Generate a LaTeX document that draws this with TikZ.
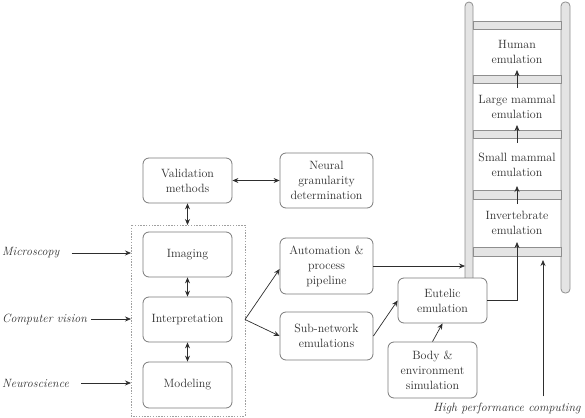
\documentclass[tikz,border=0pt]{standalone}
\usetikzlibrary{arrows.meta,calc}
\definecolor{boxgray}{HTML}{7A7A7A}
\definecolor{txt}{HTML}{2E2E2E}
\definecolor{arrcol}{HTML}{2E2E2E}
\definecolor{railfill}{HTML}{E4E4E4}
\definecolor{railline}{HTML}{8E8E8E}
\definecolor{dashcol}{HTML}{A0A0A0}
\begin{document}
\begin{tikzpicture}[x=1pt,y=-1pt,
  font=\fontsize{12}{15}\selectfont,
  box/.style={draw=boxgray, line width=0.8pt, rounded corners=6pt, fill=white,
    align=center, text=txt, inner sep=0pt},
  lbl/.style={text=txt, inner sep=0pt, font=\fontsize{12}{15}\selectfont\itshape},
  cell/.style={text=txt, align=center, inner sep=0pt},
  arr/.style={-{Stealth[length=6pt,width=5pt]}, draw=arrcol, line width=0.7pt},
  darr/.style={{Stealth[length=6pt,width=5pt]}-{Stealth[length=6pt,width=5pt]}, draw=arrcol, line width=0.7pt},
  rail/.style={draw=railline, fill=railfill, line width=0.8pt, rounded corners=4pt},
  rung/.style={draw=railline, fill=railfill, line width=0.8pt}
]
\useasboundingbox (0,0) rectangle (585,417);

% ---- ladder
\draw[rail] (465,2) rectangle (473,285);
\draw[rail] (561,2) rectangle (570,293);
\foreach \t/\b in {21/29, 75/83, 130/138, 190/199, 247/256}
  \draw[rung] (473,\t) rectangle (561,\b);

\node[cell] (human)  at (517,52)    {Human\\emulation};
\node[cell] (large)  at (517,106.5) {Large mammal\\emulation};
\node[cell] (small)  at (517,164.5) {Small mammal\\emulation};
\node[cell] (invert) at (517,222.5) {Invertebrate\\emulation};

\coordinate (r1a) at (517,88);  \coordinate (r1b) at (517,70);
\coordinate (r2a) at (517,143); \coordinate (r2b) at (517,125);
\coordinate (r3a) at (517,204); \coordinate (r3b) at (517,186);
\draw[arr] (r1a) -- (r1b);
\draw[arr] (r2a) -- (r2b);
\draw[arr] (r3a) -- (r3b);

\coordinate (railL) at (465,266);
\coordinate (invIn) at (517,242);
\coordinate (hpcTip) at (543,260);

% ---- boxes
\node[box, minimum width=89pt, minimum height=45pt] (valid) at (187.5,180.5) {Validation\\methods};
\node[box, minimum width=93pt, minimum height=55pt] (neural) at (326.5,180.5) {Neural\\granularity\\determination};

\draw[dashcol, line width=0.9pt, dash pattern=on 1.4pt off 1.4pt] (131,225) rectangle (245,416);
\coordinate (dashTop) at (187.5,225);
\coordinate (dashL) at (131,320);
\coordinate (dashR) at (245,320);

\node[box, minimum width=89pt, minimum height=45pt] (imaging) at (187.5,254.5) {Imaging};
\node[box, minimum width=89pt, minimum height=45pt] (interp) at (187.5,319.5) {Interpretation};
\node[box, minimum width=89pt, minimum height=46pt] (model) at (187.5,385) {Modeling};

\node[box, minimum width=93pt, minimum height=56pt] (auto) at (326.5,266) {Automation \&\\process\\pipeline};
\node[box, minimum width=93pt, minimum height=48pt] (sub) at (326.5,336) {Sub-network\\emulations};

\node[box, minimum width=89pt, minimum height=45pt] (eut) at (442.5,300.5) {Eutelic\\emulation};
\node[box, minimum width=89pt, minimum height=56pt] (body) at (432.5,370) {Body \&\\environment\\simulation};

% ---- left labels
\node[lbl, anchor=west] (micro) at (2,253) {Microscopy};
\node[lbl, anchor=west] (cv) at (2,319) {Computer vision};
\node[lbl, anchor=west] (neuro) at (2,383) {Neuroscience};
\node[lbl] (hpc) at (507,408) {High performance computing};

% ---- connectors
\draw[darr] (valid.east) -- (neural.west);
\draw[darr] (valid.south) -- (dashTop);
\draw[darr] (imaging.south) -- (interp.north);
\draw[darr] (interp.south) -- (model.north);

\draw[arr, shorten <=12pt] (micro.east) -- (micro.east -| dashL);
\draw[arr, shorten <=4pt] (cv.east) -- (cv.east -| dashL);
\draw[arr, shorten <=12pt] (neuro.east) -- (neuro.east -| dashL);

\draw[arr] (dashR |- interp.east) -- ($(auto.west)+(0,3)$);
\draw[arr] (dashR |- interp.east) -- (sub.west);

\draw[arr] (auto.east) -- (railL);
\draw[arr] (sub.east) -- (eut.west);
\draw[arr] (body.north) -- (eut.south);
\draw[arr] (eut.east) -| (invIn);
\draw[arr, shorten <=6pt] (hpc.north -| hpcTip) -- (hpcTip);
\end{tikzpicture}
\end{document}
